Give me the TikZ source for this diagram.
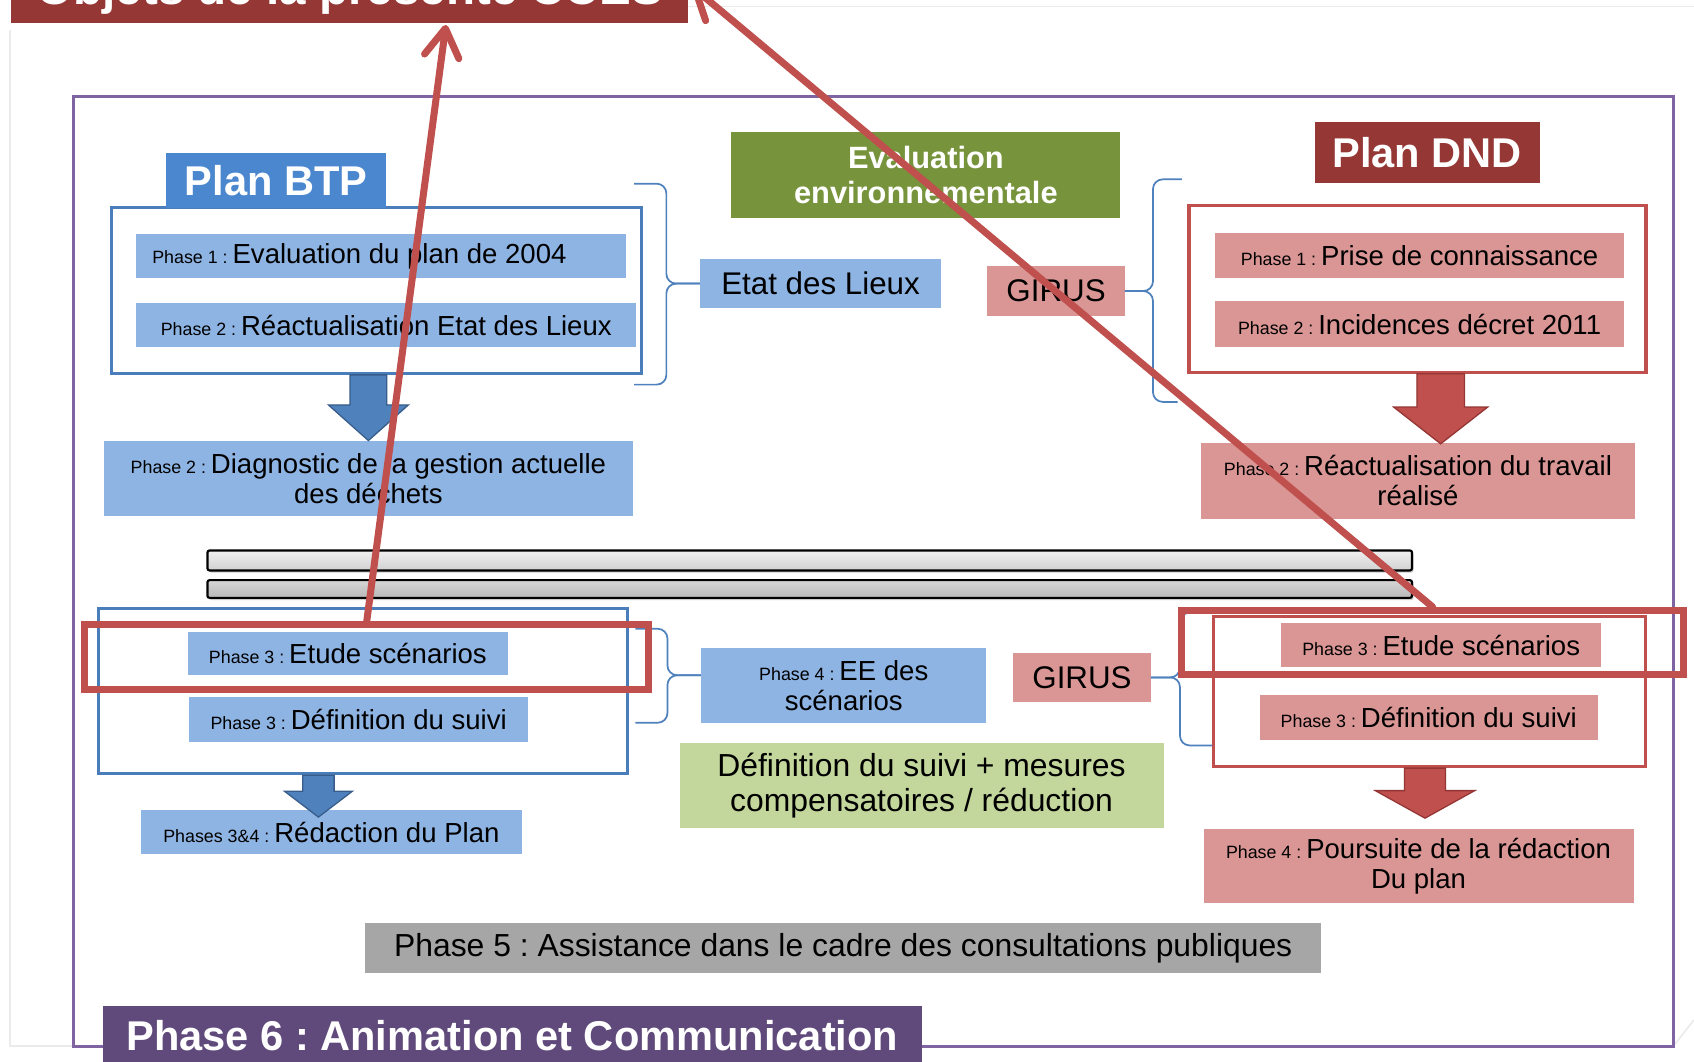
\documentclass[tikz,border=0pt]{standalone}
\usepackage{fontspec}
\setmainfont{Liberation Sans}
\usetikzlibrary{calc,arrows.meta,shadows}
\frenchspacing

\definecolor{darkred}{HTML}{953735}
\definecolor{headblue}{HTML}{4B87CF}
\definecolor{frameblue}{HTML}{4A7EBB}
\definecolor{boxblue}{HTML}{8EB4E3}
\definecolor{boxpink}{HTML}{D99694}
\definecolor{boxgreen}{HTML}{C3D69B}
\definecolor{boxgray}{HTML}{A6A6A6}
\definecolor{olive}{HTML}{77933C}
\definecolor{framered}{HTML}{C0504D}
\definecolor{pointred}{HTML}{C0504D}
\definecolor{braceblue}{HTML}{4F81BD}
\definecolor{arrowblue}{HTML}{4F81BD}
\definecolor{arrowblueedge}{HTML}{385D8A}
\definecolor{arrowrededge}{HTML}{943634}
\definecolor{boxpurple}{HTML}{604A7B}
\definecolor{framepurple}{HTML}{8064A2}

% small "Phase n :" label in front of a box text
\newcommand{\phaselbl}[1]{{\fontsize{16.5pt}{18pt}\selectfont #1 : }}
% block arrow: style, frame, tip, shaft half width, head half width, head length
\newcommand{\blockarrow}[6]{%
  \draw[#1] ($(#2.south -| #3)+(-#4,0)$) -- ($(#3)+(-#4,-#6)$) -- ($(#3)+(-#5,-#6)$)
    -- (#3) -- ($(#3)+(#5,-#6)$) -- ($(#3)+(#4,-#6)$) -- ($(#2.south -| #3)+(#4,0)$) -- cycle;}

\tikzset{
  wh/.style 2 args={minimum width=#1pt, minimum height=#2pt},
  slideline/.style={draw=black!8, line width=1.5pt},
  purpframe/.style={draw=framepurple, line width=3pt},
  boxtext/.style={inner sep=0pt, align=center, text=black, font=\fontsize{25.5pt}{28pt}\selectfont},
  bluebox/.style={boxtext, fill=boxblue},
  pinkbox/.style={boxtext, fill=boxpink},
  greenbox/.style={boxtext, fill=boxgreen, font=\fontsize{29.5pt}{32pt}\selectfont},
  graybox/.style={boxtext, fill=boxgray, font=\fontsize{29.5pt}{32pt}\selectfont},
  headbox/.style={inner sep=0pt, text=white, font=\bfseries\fontsize{38.5pt}{42pt}\selectfont},
  titlebox/.style={headbox, fill=darkred, font=\bfseries\fontsize{44pt}{48pt}\selectfont},
  bluefr/.style={draw=frameblue, line width=3pt, inner sep=0pt},
  redfr/.style={draw=framered, line width=3pt, inner sep=0pt},
  highlight/.style={draw=pointred, line width=6.5pt, inner sep=0pt},
  bracepath/.style={draw=braceblue, line width=1.6pt, rounded corners=9pt},
  bluearrow/.style={fill=arrowblue, draw=arrowblueedge, line width=1.2pt},
  redarrow/.style={fill=pointred, draw=arrowrededge, line width=1.2pt},
  bartop/.style={draw=black, line width=2pt, rounded corners=2pt, inner sep=0pt,
    top color=black!6, bottom color=black!18,
    drop shadow={shadow xshift=1.5pt, shadow yshift=-2pt, opacity=0.4}},
  barlow/.style={bartop, top color=black!16, bottom color=black!28},
  pointer/.style={draw=pointred, line width=6.5pt, line cap=round,
    -{Straight Barb[length=26pt, width=32pt, round]}}
}

\begin{document}
\begin{tikzpicture}[x=1pt, y=-1pt]
\useasboundingbox (0,0) rectangle (1568,983);
\clip (0,0) rectangle (1568,983);
\fill[white] (0,0) rectangle (1568,983);

% slide border and outer frame
\draw[slideline] (637,6) -- (1568,6);
\draw[slideline] (9,28) -- (9,968) -- (68,968);
\draw[slideline] (1549,968) -- (1568,944);
\draw[purpframe] (68,89) rectangle (1549,968.6);

% title, cut by the top of the page
\node[titlebox, anchor=south west, minimum width=627pt, text height=44.5pt, text depth=17.1pt] (title) at (10,21.6) {Objets de la présente CCES};

% Plan BTP, upper part
\node[bluefr, wh={491}{153.2}] (btpframeA) at (348.5,268.9) {};
\node[headbox, fill=headblue, wh={203}{50.6}] (btphead) at (255.5,167) {Plan BTP};
\node[bluebox, wh={453}{41}, text width=423pt, align=flush left, inner xsep=15pt] (btpPhA) at (352.5,236.9) {\phaselbl{Phase 1}Evaluation du plan de 2004};
\node[bluebox, wh={463}{41}] (btpPhB) at (357.5,301) {\phaselbl{Phase 2}Réactualisation Etat des Lieux};
\node[bluebox, wh={490}{69.5}] (btpDiag) at (341,442.75) {\phaselbl{Phase 2}Diagnostic de la gestion actuelle\\des déchets};

% middle column, upper part
\node[bluebox, font=\fontsize{29pt}{32pt}\selectfont, wh={223}{45}] (etat) at (759.5,262.5) {Etat des Lieux};
\node[headbox, fill=olive, align=center, font=\bfseries\fontsize{28.5pt}{32pt}\selectfont, wh={360}{80}] (evalenv) at (857,162) {Evaluation\\environnementale};
\node[pinkbox, font=\fontsize{29pt}{32pt}\selectfont, wh={127}{46}] (girusA) at (977.5,269.4) {GIRUS};

% Plan DND, upper part
\node[headbox, fill=darkred, wh={208}{56}] (dndhead) at (1321,141) {Plan DND};
\node[redfr, wh={423}{154.5}] (dndframeA) at (1312,267.25) {};
\node[pinkbox, wh={378}{41.3}] (dndPhA) at (1314,236.3) {\phaselbl{Phase 1}Prise de connaissance};
\node[pinkbox, wh={378}{42}] (dndPhB) at (1314,300) {\phaselbl{Phase 2}Incidences décret 2011};
\node[pinkbox, wh={401}{70}] (dndReac) at (1312.5,445) {\phaselbl{Phase 2}Réactualisation du travail\\réalisé};

% braces, upper part
\coordinate (braceAtop) at (587,170);
\coordinate (braceAbot) at (587,356);
\draw[bracepath] (braceAtop) -| ($(etat.west)+(-31,0)$) -- (etat.west);
\draw[bracepath] (braceAbot) -| ($(etat.west)+(-31,0)$) -- (etat.west);
\coordinate (braceBtop) at (1094,166);
\coordinate (braceBbot) at (1090,372);
\draw[bracepath] (braceBtop) -| ($(girusA.east)+(26,0)$) -- (girusA.east);
\draw[bracepath] (braceBbot) -| ($(girusA.east)+(26,0)$) -- (girusA.east);

% block arrows, upper part
\blockarrow{bluearrow}{btpframeA}{btpDiag.north}{17}{37}{33}
\coordinate (dndtipA) at ($(dndReac.north)+(21,1)$);
\blockarrow{redarrow}{dndframeA}{dndtipA}{22}{43.5}{34}

% separator bars
\node[bartop, wh={1115}{18.5}] (barA) at (749.5,518.75) {};
\node[barlow, wh={1115}{16.4}] (barB) at (749.5,545.2) {};

% Plan BTP, lower part
\node[bluefr, wh={489.5}{152.6}] (btpframeB) at (336.25,639.7) {};
\node[bluebox, wh={296}{40.2}] (btpEtude) at (322,604.9) {\phaselbl{Phase 3}Etude scénarios};
\node[bluebox, wh={314}{42}] (btpSuivi) at (332,666) {\phaselbl{Phase 3}Définition du suivi};
\node[bluebox, wh={352.5}{40.5}] (btpRedac) at (306.75,770.25) {\phaselbl{Phases 3\&4}Rédaction du Plan};

% middle column, lower part
\node[bluebox, wh={264}{69}] (eeScen) at (781,634.5) {\phaselbl{Phase 4}EE des\\scénarios};
\node[pinkbox, font=\fontsize{29pt}{32pt}\selectfont, wh={127}{46}] (girusB) at (1001.5,627) {GIRUS};
\node[greenbox, wh={448}{78}] (mesures) at (853,727) {Définition du suivi + mesures\\compensatoires / réduction};

% Plan DND, lower part
\node[redfr, wh={400}{139}] (dndframeB) at (1323,640) {};
\node[pinkbox, wh={296}{40.6}] (dndEtude) at (1334,597.3) {\phaselbl{Phase 3}Etude scénarios};
\node[pinkbox, wh={313}{41.5}] (dndSuivi) at (1322.5,664.25) {\phaselbl{Phase 3}Définition du suivi};
\node[pinkbox, wh={398}{69}] (dndPours) at (1313,801.5) {\phaselbl{Phase 4}Poursuite de la rédaction\\Du plan};

\node[graybox, wh={885}{46.6}] (phase5) at (780.5,877.3) {Phase 5 : Assistance dans le cadre des consultations publiques};

% braces, lower part
\coordinate (braceCtop) at (588,582);
\coordinate (braceCbot) at (588,669);
\coordinate (eeTip) at ($(eeScen.west)+(0,-9.5)$);
\draw[bracepath] (braceCtop) -| ($(eeTip)+(-31,0)$) -- (eeTip);
\draw[bracepath] (braceCbot) -| ($(eeTip)+(-31,0)$) -- (eeTip);
\coordinate (braceDtop) at (1122,567);
\coordinate (braceDbot) at (1122,690);
\draw[bracepath] (braceDtop) -| ($(girusB.east)+(27,0)$) -- (girusB.east);
\draw[bracepath] (braceDbot) -| ($(girusB.east)+(27,0)$) -- (girusB.east);

% block arrows, lower part
\coordinate (btptipB) at ($(btpRedac.north)+(-12,6.5)$);
\blockarrow{bluearrow}{btpframeB}{btptipB}{14.5}{31.5}{24}
\coordinate (dndtipB) at ($(dndPours.north)+(6,-9.5)$);
\blockarrow{redarrow}{dndframeB}{dndtipB}{19}{46}{25.5}

% highlights and pointers to the title
\node[highlight, wh={522}{60}] (hlBtp) at (339.5,608) {};
\node[highlight, wh={464}{59}] (hlDnd) at (1326,594.5) {};
\coordinate (tipA) at ($(title.south)+(89,1.5)$);
\coordinate (tipB) at (641,-12);
\draw[pointer] (hlBtp.north) -- (tipA);
\draw[pointer] (hlDnd.north) -- (tipB);

\node[headbox, fill=boxpurple, anchor=north west, minimum width=758pt, text height=41pt, text depth=28pt] (phase6) at (95,931) {Phase 6 : Animation et Communication};
\end{tikzpicture}
\end{document}
